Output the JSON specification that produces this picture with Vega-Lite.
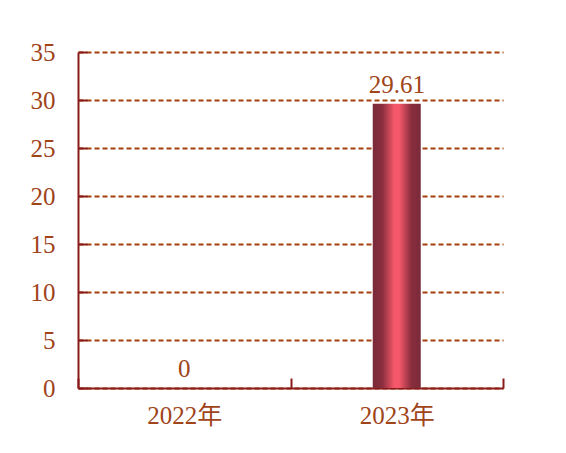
{
  "$schema": "https://vega.github.io/schema/vega-lite/v6.json",
  "autosize": {"type": "none"},
  "padding": {"left": 78, "top": 52, "right": 63, "bottom": 65},
  "width": 425,
  "height": 336,
  "background": "white",
  "config": {
    "view": {"stroke": null},
    "font": "Liberation Serif",
    "axis": {
      "labelFont": "Liberation Serif, Noto Sans CJK SC",
      "labelFontSize": 25,
      "labelColor": "#a0441a",
      "domainColor": "#8b1a1a",
      "domainWidth": 2,
      "tickColor": "#8b1a1a",
      "tickWidth": 2
    }
  },
  "data": {
    "values": [
      {"year": "2022年", "value": 0},
      {"year": "2023年", "value": 29.61}
    ]
  },
  "encoding": {
    "x": {
      "field": "year",
      "type": "nominal",
      "sort": null,
      "scale": {"paddingInner": 0, "paddingOuter": 0},
      "axis": {
        "title": null,
        "labelAngle": 0,
        "tickBand": "extent",
        "tickSize": -10,
        "labelPadding": 25,
        "grid": false
      }
    },
    "y": {
      "field": "value",
      "type": "quantitative",
      "scale": {"domain": [0, 35]},
      "axis": {
        "title": null,
        "values": [0, 5, 10, 15, 20, 25, 30, 35],
        "tickSize": -9,
        "labelPadding": 32,
        "grid": true,
        "gridColor": "#a8400c",
        "gridWidth": 2,
        "gridDash": [5, 3]
      }
    }
  },
  "layer": [
    {
      "mark": {
        "type": "bar",
        "width": 48,
        "color": {
          "gradient": "linear",
          "x1": 0, "x2": 1, "y1": 0, "y2": 0,
          "stops": [
            {"offset": 0, "color": "#7a2a3a"},
            {"offset": 0.2, "color": "#8a2e3e"},
            {"offset": 0.45, "color": "#f4586a"},
            {"offset": 0.55, "color": "#f4586a"},
            {"offset": 0.8, "color": "#8a2e3e"},
            {"offset": 1, "color": "#7a2a3a"}
          ]
        }
      }
    },
    {
      "mark": {
        "type": "text",
        "baseline": "bottom",
        "dy": -6,
        "fontSize": 25,
        "font": "Liberation Serif",
        "color": "#a0441a"
      },
      "encoding": {
        "text": {"field": "value", "type": "quantitative"}
      }
    }
  ]
}
